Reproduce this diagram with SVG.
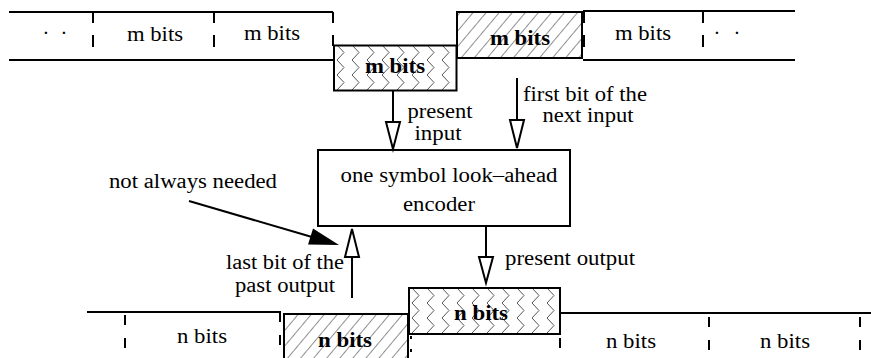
<svg xmlns="http://www.w3.org/2000/svg" width="871" height="358" viewBox="0 0 871 358" font-family="'Liberation Serif', 'DejaVu Serif', serif">
  <style>
    text { font-family: "Liberation Serif", "DejaVu Serif", serif; font-size: 20.5px; fill: #000; }
    .c { text-anchor: middle; }
    .b { font-weight: bold; }
    .edge { fill: none; stroke: #000; stroke-width: 2; }
    .dash { fill: none; stroke: #000; stroke-width: 2; stroke-dasharray: 12 12; }
    .dash2 { fill: none; stroke: #000; stroke-width: 2; stroke-dasharray: 10 13; }
    .open { fill: #fff; stroke: #000; stroke-width: 2; stroke-linejoin: miter; }
    .wire { fill: none; stroke: #000; stroke-width: 2; }
  </style>
  <defs>
    <!-- zigzag fill: columns of right-pointing chevrons -->
    <pattern id="zz" patternUnits="userSpaceOnUse" width="15" height="15" x="337" y="45">
      <path d="M0,0 L7,7.5 L0,15" fill="none" stroke="#555" stroke-width="1"/>
    </pattern>
    <pattern id="zzLow" href="#zz" x="412" y="288"/>
    <!-- diagonal hatch fill -->
    <pattern id="hatch" patternUnits="userSpaceOnUse" width="10" height="10" patternTransform="rotate(40)">
      <line x1="0" y1="-1" x2="0" y2="11" stroke="#222" stroke-width="1"/>
    </pattern>
  </defs>

  <rect width="871" height="358" fill="#fff"/>

  <!-- input stream (m-bit symbols) -->
  <g id="input-stream">
    <path class="edge" d="M9,12 H333 M9,60 H333"/>
    <path class="dash" d="M93,11 V60 M214,11 V60"/>
    <path class="dash" d="M333,12 V46" style="stroke-dasharray:11 12"/>
    <text class="c" x="55" y="40" style="word-spacing:6px">· ·</text>
    <text class="c" x="155" y="41" textLength="56" lengthAdjust="spacingAndGlyphs">m bits</text>
    <text class="c" x="272" y="40" textLength="56" lengthAdjust="spacingAndGlyphs">m bits</text>
  </g>

  <g id="present-input">
    <rect x="334" y="45.5" width="122.5" height="45" fill="url(#zz)" stroke="#000" stroke-width="2"/>
    <text class="c b" x="395" y="73" textLength="60" lengthAdjust="spacingAndGlyphs">m bits</text>
  </g>

  <g id="next-input">
    <rect x="457" y="12" width="125" height="46" fill="url(#hatch)" stroke="#000" stroke-width="2"/>
    <text class="c b" x="520" y="45" textLength="60" lengthAdjust="spacingAndGlyphs">m bits</text>
  </g>

  <g id="input-stream-rest">
    <path class="edge" d="M583,11 H795 M583,60 H795"/>
    <path class="dash" d="M584,11 V60 M703,11 V60"/>
    <text class="c" x="643" y="40" textLength="56" lengthAdjust="spacingAndGlyphs">m bits</text>
    <text class="c" x="727" y="40" style="word-spacing:8px">· ·</text>
  </g>

  <!-- encoder block -->
  <g id="encoder">
    <rect x="318" y="150" width="252" height="76" fill="#fff" stroke="#000" stroke-width="2"/>
    <text class="c" x="449" y="182" textLength="217" lengthAdjust="spacingAndGlyphs">one symbol look–ahead</text>
    <text class="c" x="439" y="211" textLength="72" lengthAdjust="spacingAndGlyphs">encoder</text>
  </g>

  <!-- output stream (n-bit symbols) -->
  <g id="output-stream">
    <path class="edge" d="M87,312 H281"/>
    <path class="dash2" d="M125,315 V358"/>
    <path class="dash2" d="M280,312 V358"/>
    <text class="c" x="202" y="343" textLength="50" lengthAdjust="spacingAndGlyphs">n bits</text>
  </g>

  <g id="past-output">
    <path d="M284,362 V314 H408 V362" fill="url(#hatch)" stroke="#000" stroke-width="2"/>
    <text class="c b" x="345" y="347" textLength="54" lengthAdjust="spacingAndGlyphs">n bits</text>
  </g>

  <g id="present-output">
    <rect x="409" y="288" width="151" height="46" fill="url(#zzLow)" stroke="#000" stroke-width="2"/>
    <text class="c b" x="481" y="320" textLength="54" lengthAdjust="spacingAndGlyphs">n bits</text>
    <path class="edge" d="M411,336 V339 M411,349 V352"/>
  </g>

  <g id="output-stream-rest">
    <path class="edge" d="M560,313 H871"/>
    <path class="edge" d="M560,338 V348"/>
    <path class="dash2" d="M709,317 V358 M860,317 V358"/>
    <text class="c" x="631" y="348" textLength="50" lengthAdjust="spacingAndGlyphs">n bits</text>
    <text class="c" x="785" y="348" textLength="50" lengthAdjust="spacingAndGlyphs">n bits</text>
  </g>

  <!-- connectors -->
  <g id="connectors">
    <path class="wire" d="M393,91 V122"/>
    <polygon class="open" points="386,122 400,122 393,149"/>
    <path class="wire" d="M517,78 V120"/>
    <polygon class="open" points="510,120 524,120 517,148"/>
    <path class="wire" d="M486,226 V257"/>
    <polygon class="open" points="479,257 493,257 486,283"/>
    <path class="wire" d="M352,298 V257"/>
    <polygon class="open" points="345,257 359,257 352,229"/>
    <path class="wire" d="M189,201 L312,237"/>
    <polygon points="339,245 308,244.5 313,228.5" fill="#000"/>
  </g>

  <!-- labels -->
  <g id="labels">
    <text class="c" x="440" y="118" textLength="65" lengthAdjust="spacingAndGlyphs">present</text>
    <text class="c" x="438" y="140" textLength="47" lengthAdjust="spacingAndGlyphs">input</text>
    <text class="c" x="585" y="101" textLength="124" lengthAdjust="spacingAndGlyphs">first bit of the</text>
    <text class="c" x="588" y="122" textLength="91" lengthAdjust="spacingAndGlyphs">next input</text>
    <text class="c" x="193" y="188" textLength="168" lengthAdjust="spacingAndGlyphs">not always needed</text>
    <text class="c" x="285" y="269" textLength="118" lengthAdjust="spacingAndGlyphs">last bit of the</text>
    <text class="c" x="285" y="292" textLength="100" lengthAdjust="spacingAndGlyphs">past output</text>
    <text x="505" y="265" textLength="130" lengthAdjust="spacingAndGlyphs">present output</text>
  </g>
</svg>
